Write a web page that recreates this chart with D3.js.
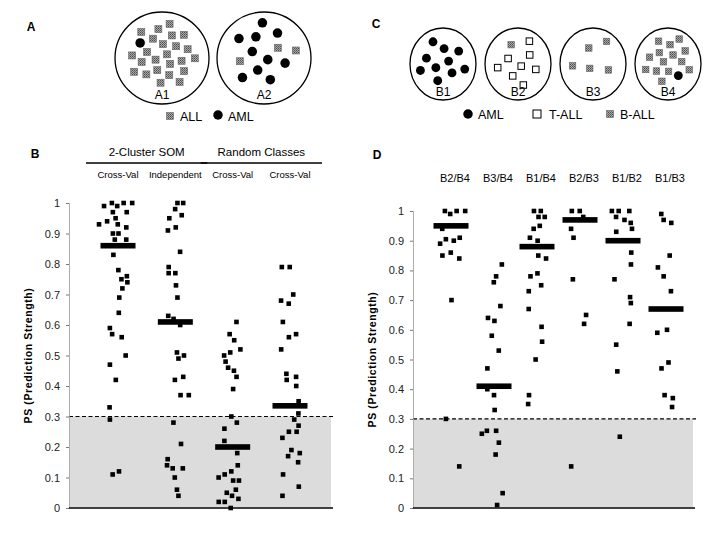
<!DOCTYPE html>
<html><head><meta charset="utf-8">
<script src="https://cdn.jsdelivr.net/npm/d3@7"></script>
<style>
body{margin:0;background:#fff;}
svg{display:block;font-family:"Liberation Sans",Arial,sans-serif;}
</style></head>
<body><svg id="chart" width="720" height="540"></svg>
<script>
// ---------- DATA ----------
// Panel A: cluster composition
const clustersA = ["A1", "A2"];
const clusterA_ALL = [24, 3];
const clusterA_AML = [1, 10];
// Panel C
const clustersC = ["B1", "B2", "B3", "B4"];
const clusterC_AML = [10, 0, 0, 1];
const clusterC_TALL = [0, 8, 0, 0];
const clusterC_BALL = [0, 1, 5, 14];

// Panel B
const groupsB = ["2-Cluster SOM", "Random Classes"];
const columnsB = ["Cross-Val", "Independent", "Cross-Val", "Cross-Val"];
const columnGroupB = [0, 0, 1, 1];
const bSomCrossVal = [1.0,1.0,1.0,0.99,0.99,0.97,0.97,0.95,0.94,0.93,0.93,0.92,0.90,0.90,0.88,0.88,0.83,0.78,0.76,0.75,0.74,0.72,0.69,0.64,0.59,0.57,0.56,0.50,0.47,0.42,0.33,0.29,0.12,0.11];
const bSomIndependent = [1.0,1.0,0.98,0.96,0.95,0.92,0.91,0.84,0.79,0.77,0.77,0.73,0.69,0.63,0.62,0.60,0.51,0.50,0.49,0.43,0.42,0.37,0.37,0.28,0.21,0.16,0.14,0.13,0.13,0.10,0.06,0.04];
const bRandomCV1 = [0.61,0.57,0.55,0.52,0.51,0.50,0.48,0.46,0.45,0.43,0.39,0.30,0.28,0.26,0.22,0.18,0.14,0.12,0.11,0.10,0.09,0.09,0.06,0.05,0.04,0.03,0.02,0.02,0.00];
const bRandomCV2 = [0.79,0.79,0.70,0.68,0.67,0.61,0.57,0.56,0.52,0.44,0.43,0.42,0.40,0.35,0.31,0.29,0.27,0.25,0.25,0.23,0.19,0.18,0.17,0.15,0.11,0.07,0.04];
const mediansB = [0.86, 0.61, 0.20, 0.335];

// Panel D
const columnsD = ["B2/B4", "B3/B4", "B1/B4", "B2/B3", "B1/B2", "B1/B3"];
const dB2B4 = [1.0,1.0,1.0,0.99,0.94,0.91,0.905,0.90,0.89,0.86,0.85,0.84,0.70,0.30,0.14];
const dB3B4 = [0.82,0.78,0.76,0.68,0.64,0.63,0.58,0.53,0.47,0.40,0.38,0.33,0.26,0.26,0.25,0.22,0.18,0.05,0.01];
const dB1B4 = [1.0,1.0,0.98,0.98,0.95,0.94,0.91,0.90,0.85,0.84,0.79,0.78,0.75,0.73,0.67,0.61,0.56,0.50,0.38,0.35];
const dB2B3 = [1.0,1.0,0.98,0.94,0.91,0.77,0.65,0.62,0.14];
const dB1B2 = [1.0,1.0,1.0,0.98,0.97,0.96,0.94,0.93,0.86,0.82,0.77,0.71,0.69,0.62,0.55,0.46,0.24];
const dB1B3 = [0.99,0.97,0.96,0.85,0.81,0.78,0.73,0.60,0.59,0.49,0.47,0.38,0.37,0.34];
const mediansD = [0.95, 0.41, 0.88, 0.97, 0.90, 0.67];

const yTicks = [0, 0.1, 0.2, 0.3, 0.4, 0.5, 0.6, 0.7, 0.8, 0.9, 1];
const yTickLabels = ["0", "0.1", "0.2", "0.3", "0.4", "0.5", "0.6", "0.7", "0.8", "0.9", "1"];
const threshold = 0.3;
const yLabel = "PS (Prediction Strength)";

// ---------- DRAW ----------
const svg = d3.select("#chart");
const defs = svg.append("defs");
const pat = defs.append("pattern").attr("id", "speck").attr("width", 2).attr("height", 2)
  .attr("patternUnits", "userSpaceOnUse");
pat.append("rect").attr("width", 2).attr("height", 2).attr("fill", "#a8a8a8");
pat.append("rect").attr("width", 1).attr("height", 1).attr("fill", "#4c4c4c");
pat.append("rect").attr("x", 1).attr("y", 1).attr("width", 1).attr("height", 1).attr("fill", "#6a6a6a");

function panelLetter(t, x, y) {
  svg.append("text").attr("x", x).attr("y", y).attr("font-weight", "bold")
    .attr("font-size", 12).attr("text-anchor", "middle").text(t);
}

function drawSymbol(g, type, x, y, s) {
  if (type === "AML") {
    g.append("circle").attr("cx", x).attr("cy", y).attr("r", s * 0.68).attr("fill", "#000");
  } else if (type === "TALL") {
    g.append("rect").attr("x", x - s / 2).attr("y", y - s / 2).attr("width", s).attr("height", s)
      .attr("fill", "#fff").attr("stroke", "#000").attr("stroke-width", 1);
  } else {
    g.append("rect").attr("x", x - s / 2).attr("y", y - s / 2).attr("width", s).attr("height", s)
      .attr("fill", "url(#speck)").attr("stroke", "#666").attr("stroke-width", 0.6);
  }
}

// cluster diagrams: symbols laid out with a sunflower pattern inside the ellipse
function drawClusters(names, countsByType, xScale, cy, rx, ry, symSize) {
  names.forEach((name, i) => {
    const cx = xScale(name);
    const g = svg.append("g");
    g.append("ellipse").attr("cx", cx).attr("cy", cy).attr("rx", rx).attr("ry", ry)
      .attr("fill", "none").attr("stroke", "#000").attr("stroke-width", 1.3);
    const items = [];
    Object.entries(countsByType).forEach(([t, arr]) => {
      const c = arr[i];
      for (let k = 0; k < c; k++) items.push({ t, key: (k + 0.5) / c });
    });
    items.sort((a, b) => a.key - b.key);
    const n = items.length;
    const ga = Math.PI * (3 - Math.sqrt(5));
    items.forEach((it, k) => {
      const rr = Math.sqrt((k + 0.5) / n);
      const th = k * ga + i;
      const x = cx + rr * rx * 0.76 * Math.cos(th);
      const y = cy - ry * 0.08 + rr * ry * 0.7 * Math.sin(th);
      drawSymbol(g, it.t, x, y, symSize);
    });
    g.append("text").attr("x", cx).attr("y", cy + ry * 0.9).attr("text-anchor", "middle")
      .attr("font-size", 12).text(name);
  });
}

// Panel A
panelLetter("A", 31, 31);
const xA = d3.scalePoint().domain(clustersA).range([162, 264]);
drawClusters(clustersA, { ALL: clusterA_ALL, AML: clusterA_AML }, xA, 58, 47, 46, 7);
{
  const g = svg.append("g");
  drawSymbol(g, "ALL", 170, 116, 7);
  g.append("text").attr("x", 180).attr("y", 121).attr("font-size", 12.5).text("ALL");
  drawSymbol(g, "AML", 218, 115, 7);
  g.append("text").attr("x", 228).attr("y", 121).attr("font-size", 12.5).text("AML");
}

// Panel C
panelLetter("C", 376, 28);
const xC = d3.scalePoint().domain(clustersC).range([443, 668]);
drawClusters(clustersC, { AML: clusterC_AML, TALL: clusterC_TALL, BALL: clusterC_BALL }, xC, 64, 33, 36, 6.5);
{
  const g = svg.append("g");
  drawSymbol(g, "AML", 468, 114, 7);
  g.append("text").attr("x", 478).attr("y", 119).attr("font-size", 12.5).text("AML");
  drawSymbol(g, "TALL", 537, 114, 8);
  g.append("text").attr("x", 549).attr("y", 119).attr("font-size", 12.5).text("T-ALL");
  drawSymbol(g, "BALL", 610, 114, 7);
  g.append("text").attr("x", 620).attr("y", 119).attr("font-size", 12.5).text("B-ALL");
}

// strip plot panels
function stripPanel(opts) {
  const { x0, x1, yTop, yBot, colNames, colRange, series, medians, labelX } = opts;
  const g = svg.append("g");
  const y = d3.scaleLinear().domain([0, 1]).range([yBot, yTop]);
  const cols = colNames.map((d, i) => i);
  const x = d3.scalePoint().domain(cols).range(colRange);

  g.append("rect").attr("x", x0 + 1).attr("y", y(threshold)).attr("width", x1 - x0 - 3)
    .attr("height", y(0) - y(threshold) - 1).attr("fill", "#dcdcdc");
  g.append("line").attr("x1", x0).attr("x2", x1 + 1).attr("y1", y(threshold)).attr("y2", y(threshold))
    .attr("stroke", "#000").attr("stroke-width", 1.2).attr("stroke-dasharray", "4,2.5");

  const ax = g.append("g").attr("transform", `translate(${x0},0)`)
    .call(d3.axisLeft(y).tickValues(yTicks).tickFormat((d, i) => yTickLabels[i]).tickSize(3).tickPadding(6));
  ax.select(".domain").attr("stroke", "#999").attr("stroke-width", 0.8);
  ax.selectAll(".tick line").attr("stroke", "#777");
  ax.selectAll(".tick text").attr("font-size", 11).attr("fill", "#222")
    .attr("font-family", "'Liberation Sans', Arial, sans-serif");
  g.append("line").attr("x1", x0).attr("x2", x1).attr("y1", yBot).attr("y2", yBot)
    .attr("stroke", "#000").attr("stroke-width", 1.5);

  g.append("text").attr("transform", `translate(${labelX},${(yTop + yBot) / 2}) rotate(-90)`)
    .attr("text-anchor", "middle").attr("font-weight", "bold").attr("font-size", 10.5)
    .attr("letter-spacing", 0.6).text(yLabel);

  const s = 4.6;
  series.forEach((vals, ci) => {
    const cx = x(ci);
    const rng = d3.randomLcg(0.137 + ci * 0.211);
    const placed = [];
    vals.forEach(v => {
      const py = y(v);
      const pref = (rng() * 2 - 1) * 9;
      let off = pref;
      for (let k = 0; k < 30; k++) {
        const cand = pref + (k % 2 ? 1 : -1) * Math.ceil(k / 2) * (s + 0.6);
        const hit = placed.some(p => Math.abs(p[0] - (cx + cand)) < s + 0.4 && Math.abs(p[1] - py) < s + 0.4);
        if (!hit) { off = cand; break; }
      }
      placed.push([cx + off, py]);
      g.append("rect").attr("x", cx + off - s / 2).attr("y", py - s / 2)
        .attr("width", s).attr("height", s).attr("fill", "#000");
    });
    g.append("rect").attr("x", cx - 17.5).attr("y", y(medians[ci]) - 2.8)
      .attr("width", 35).attr("height", 5.6).attr("fill", "#000");
  });
  return { x, y, g };
}

// Panel B
panelLetter("B", 35, 158);
const pB = stripPanel({
  x0: 69, x1: 333, yTop: 203, yBot: 508, colNames: columnsB, colRange: [118, 290],
  series: [bSomCrossVal, bSomIndependent, bRandomCV1, bRandomCV2], medians: mediansB, labelX: 32
});
columnsB.forEach((c, i) => {
  svg.append("text").attr("x", pB.x(i)).attr("y", 178).attr("text-anchor", "middle")
    .attr("font-size", 9.5).text(c);
});
groupsB.forEach((gname, gi) => {
  const idx = columnGroupB.map((d, i) => d === gi ? i : -1).filter(i => i >= 0);
  const xa = pB.x(idx[0]) - 32, xb = pB.x(idx[idx.length - 1]) + 32;
  svg.append("line").attr("x1", xa).attr("x2", xb).attr("y1", 163).attr("y2", 163)
    .attr("stroke", "#000").attr("stroke-width", 1.3);
  svg.append("text").attr("x", (xa + xb) / 2).attr("y", 156).attr("text-anchor", "middle")
    .attr("font-size", 11.5).text(gname);
});

// Panel D
panelLetter("D", 377, 159);
const pD = stripPanel({
  x0: 413, x1: 695, yTop: 211, yBot: 508, colNames: columnsD, colRange: [451, 666],
  series: [dB2B4, dB3B4, dB1B4, dB2B3, dB1B2, dB1B3], medians: mediansD, labelX: 376
});
columnsD.forEach((c, i) => {
  svg.append("text").attr("x", pD.x(i) + 4).attr("y", 182).attr("text-anchor", "middle")
    .attr("font-size", 11).text(c);
});
</script></body></html>
